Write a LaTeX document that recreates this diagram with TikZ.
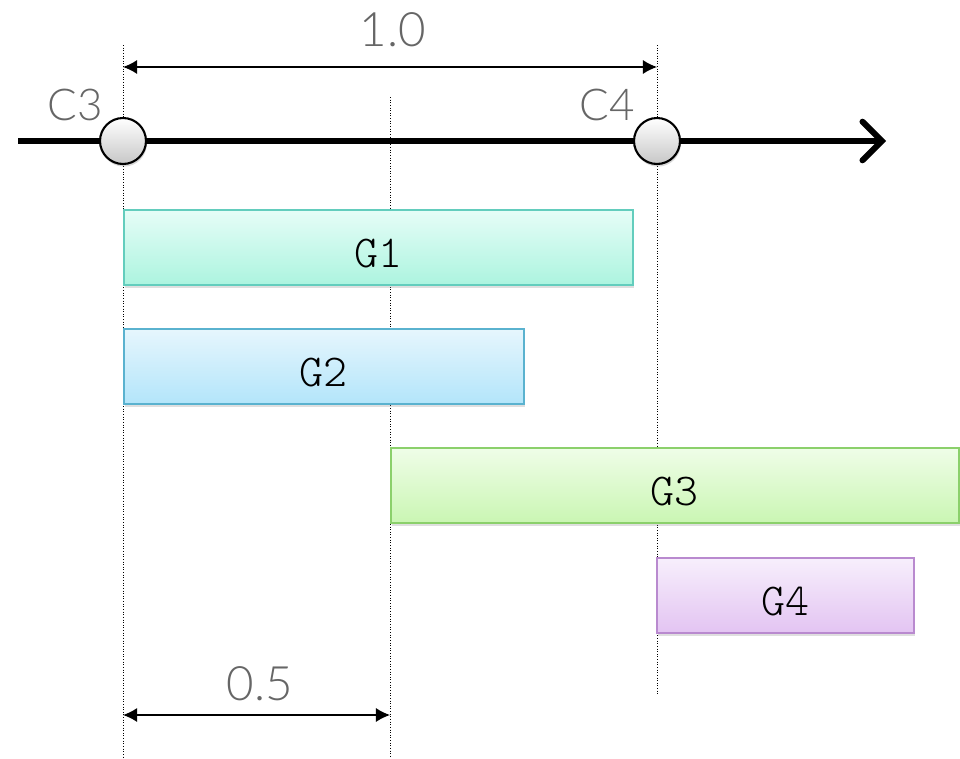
\documentclass[tikz,border=0pt]{standalone}
\usepackage{fontspec}
\usetikzlibrary{positioning,arrows.meta,shadows}
\newfontfamily\thinfont{Lato Light}
\setmonofont{Latin Modern Mono Light}
\usepackage{xcolor}
\definecolor{gOneTop}{HTML}{E6FDF7}
\definecolor{gOneBot}{HTML}{ACF4DF}
\definecolor{gOneLine}{HTML}{63CDBD}
\definecolor{gTwoTop}{HTML}{E6F6FD}
\definecolor{gTwoBot}{HTML}{B3E5FA}
\definecolor{gTwoLine}{HTML}{5AB2CF}
\definecolor{gThreeTop}{HTML}{EFFDE8}
\definecolor{gThreeBot}{HTML}{CAF6B3}
\definecolor{gThreeLine}{HTML}{8BD06B}
\definecolor{gFourTop}{HTML}{F7EFFC}
\definecolor{gFourBot}{HTML}{E3C4F2}
\definecolor{gFourLine}{HTML}{B98ACF}
\tikzstyle{bar} = [rectangle, draw, line width=1pt, anchor=north west, minimum height=1.5cm, inner sep=0pt, text height=0.82cm, text depth=0pt, font=\ttfamily\fontsize{26}{26}\selectfont, drop shadow={opacity=0.25, shadow xshift=0.6pt, shadow yshift=-1.5pt}]
\tikzstyle{point} = [circle, draw, line width=1.2pt, minimum size=0.92cm, inner sep=0pt, top color=white, bottom color=black!22, drop shadow={opacity=0.3, shadow xshift=0.5pt, shadow yshift=-1.5pt}]
\tikzstyle{ptlabel} = [font=\thinfont\fontsize{25}{25}\selectfont, text=black!60]
\tikzstyle{dimlabel} = [font=\thinfont\fontsize{27}{27}\selectfont, text=black!60]
\tikzstyle{guide} = [draw, densely dotted, line width=0.5pt]
\tikzstyle{axis} = [draw, line width=3.4pt, -{Straight Barb[length=11pt, width=22pt, line cap=round]}]
\tikzstyle{dim} = [draw, line width=0.8pt, {Latex[length=8pt, width=8pt]}-{Latex[length=8pt, width=8pt]}]

\begin{document}
\begin{tikzpicture}[x=0.02cm, y=-0.02cm]
  \useasboundingbox (0,0) rectangle (960,758);
  %% guide lines
  \coordinate (c3-top) at (123,45);
  \coordinate (c3-bot) at (123,758);
  \coordinate (half-top) at (390,97);
  \coordinate (half-bot) at (390,758);
  \coordinate (c4-top) at (657,45);
  \coordinate (c4-bot) at (657,695);
  \path[guide] (c3-top) -- (c3-bot);
  \path[guide] (half-top) -- (half-bot);
  \path[guide] (c4-top) -- (c4-bot);
  %% time axis
  \coordinate (ax-start) at (18,141);
  \coordinate (ax-end) at (886,141);
  \path[axis] (ax-start) -- (ax-end);
  %% points on the axis
  \node[point] (C3) at (123,141) {};
  \node[point] (C4) at (657,141) {};
  \node[ptlabel] (C3-lbl) at (75,105) {C3};
  \node[ptlabel] (C4-lbl) at (607,105) {C4};
  %% bars
  \node[bar, top color=gOneTop, bottom color=gOneBot, draw=gOneLine, minimum width=10.18cm] (G1) at (123,209) {G1};
  \node[bar, top color=gTwoTop, bottom color=gTwoBot, draw=gTwoLine, minimum width=8cm] (G2) at (123,328) {G2};
  \node[bar, top color=gThreeTop, bottom color=gThreeBot, draw=gThreeLine, minimum width=11.36cm] (G3) at (390,447) {G3};
  \node[bar, top color=gFourTop, bottom color=gFourBot, draw=gFourLine, minimum width=5.14cm] (G4) at (656,557) {G4};
  %% dimensions
  \coordinate (d1-l) at (123,67);
  \coordinate (d1-r) at (657,67);
  \coordinate (d2-l) at (123,715);
  \coordinate (d2-r) at (390,715);
  \path[dim] (d1-l) -- (d1-r);
  \path[dim] (d2-l) -- (d2-r);
  \node[dimlabel] (one) at (393,30) {1.0};
  \node[dimlabel] (half) at (260,684) {0.5};
\end{tikzpicture}
\end{document}
